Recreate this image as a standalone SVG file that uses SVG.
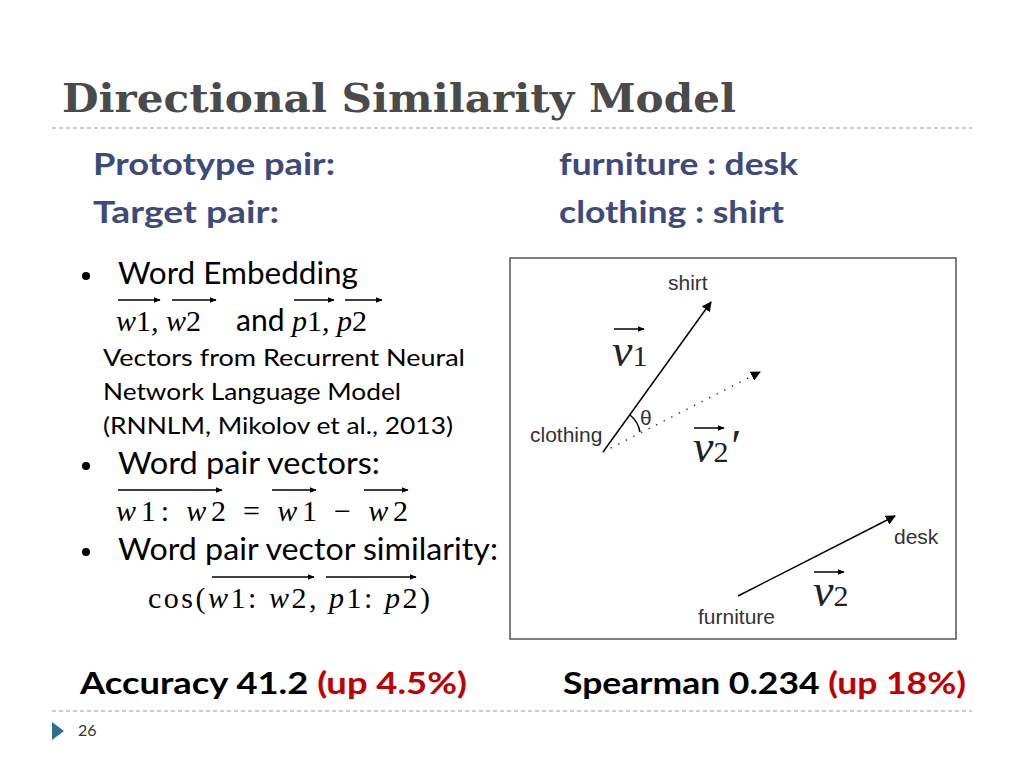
<svg xmlns="http://www.w3.org/2000/svg" width="1024" height="768" viewBox="0 0 1024 768">
<style>
.t{font-family:"DejaVu Serif","Liberation Serif",serif;font-weight:bold;font-size:40px;fill:#4a4a4a}
.h{font-family:"Lato","Liberation Sans",sans-serif;font-weight:bold;font-size:30px}
.p{fill:#3d4a7a}
.b{font-family:"Lato","Liberation Sans",sans-serif;font-size:30px;fill:#000}
.s{font-family:"Lato","Liberation Sans",sans-serif;font-size:24px;fill:#000}
.m{font-family:"Liberation Serif",serif;font-style:italic;font-size:30px;fill:#000}
.f{font-family:"Liberation Sans Narrow","Liberation Sans",sans-serif;font-size:21px;fill:#333}
.v{font-family:"Liberation Serif",serif;font-style:italic;font-size:46px;fill:#222}
.sub{font-style:normal;font-size:30px}
.ln{stroke:#000;stroke-width:1.5;fill:none}
.dash{stroke:#999;stroke-width:1;stroke-dasharray:4 3}
</style>
<defs>
<marker id="ah" viewBox="0 0 10 10" refX="9" refY="5" markerWidth="10" markerHeight="10" markerUnits="userSpaceOnUse" orient="auto"><path d="M0,0L10,5L0,10z" fill="#000"/></marker>
<marker id="sa" viewBox="0 0 10 10" refX="9" refY="5" markerWidth="7" markerHeight="7" markerUnits="userSpaceOnUse" orient="auto"><path d="M0,1L10,5L0,9z" fill="#000"/></marker>
</defs>
<rect width="1024" height="768" fill="#fff"/>
<text class="t" x="62" y="112" textLength="674" lengthAdjust="spacingAndGlyphs">Directional Similarity Model</text>
<line class="dash" x1="52" y1="128" x2="972" y2="128"/>
<text class="h p" x="93" y="175" textLength="242" lengthAdjust="spacingAndGlyphs">Prototype pair:</text>
<text class="h p" x="93" y="223" textLength="186" lengthAdjust="spacingAndGlyphs">Target pair:</text>
<text class="h p" x="559" y="175" textLength="239" lengthAdjust="spacingAndGlyphs">furniture : desk</text>
<text class="h p" x="559" y="223" textLength="225" lengthAdjust="spacingAndGlyphs">clothing : shirt</text>
<circle cx="86" cy="276" r="4" fill="#000"/>
<text class="b" x="118" y="284" textLength="240" lengthAdjust="spacingAndGlyphs">Word Embedding</text>
<text class="m" x="116" y="331">w<tspan font-style="normal">1</tspan>, w<tspan font-style="normal">2</tspan></text>
<text class="b" x="236" y="331">and</text>
<text class="m" x="292" y="331">p<tspan font-style="normal">1</tspan>, p<tspan font-style="normal">2</tspan></text>
<g class="ln"><line x1="118" y1="300" x2="160" y2="300" marker-end="url(#sa)"/><line x1="172" y1="300" x2="216" y2="300" marker-end="url(#sa)"/><line x1="294" y1="300" x2="334" y2="300" marker-end="url(#sa)"/><line x1="345" y1="300" x2="382" y2="300" marker-end="url(#sa)"/></g>
<text class="s" x="103" y="366" textLength="362" lengthAdjust="spacingAndGlyphs">Vectors from Recurrent Neural</text>
<text class="s" x="103" y="400" textLength="298" lengthAdjust="spacingAndGlyphs">Network Language Model</text>
<text class="s" x="103" y="434" textLength="350" lengthAdjust="spacingAndGlyphs">(RNNLM, Mikolov et al., 2013)</text>
<circle cx="86" cy="466" r="4" fill="#000"/>
<text class="b" x="118" y="474" textLength="262" lengthAdjust="spacingAndGlyphs">Word pair vectors:</text>
<text class="m" x="116" y="521" textLength="292" lengthAdjust="spacing">w<tspan font-style="normal">1: </tspan>w<tspan font-style="normal">2 =  </tspan>w<tspan font-style="normal">1  − </tspan>w<tspan font-style="normal">2</tspan></text>
<g class="ln"><line x1="118" y1="490" x2="222" y2="490" marker-end="url(#sa)"/><line x1="272" y1="490" x2="316" y2="490" marker-end="url(#sa)"/><line x1="364" y1="490" x2="408" y2="490" marker-end="url(#sa)"/></g>
<circle cx="86" cy="552" r="4" fill="#000"/>
<text class="b" x="118" y="560" textLength="380" lengthAdjust="spacingAndGlyphs">Word pair vector similarity:</text>
<text class="m" x="148" y="608" textLength="282" lengthAdjust="spacing"><tspan font-style="normal">cos(</tspan>w<tspan font-style="normal">1: </tspan>w<tspan font-style="normal">2, </tspan>p<tspan font-style="normal">1: </tspan>p<tspan font-style="normal">2)</tspan></text>
<g class="ln"><line x1="212" y1="577" x2="314" y2="577" marker-end="url(#sa)"/><line x1="326" y1="577" x2="416" y2="577" marker-end="url(#sa)"/></g>
<rect x="510" y="258" width="446" height="381" fill="#fff" stroke="#555" stroke-width="1.5"/>
<line class="ln" x1="603" y1="452" x2="711" y2="302" marker-end="url(#ah)"/>
<line x1="603" y1="452" x2="760" y2="372" stroke="#444" stroke-width="1.5" stroke-dasharray="1.5 7" marker-end="url(#ah)"/>
<line class="ln" x1="738" y1="596" x2="895" y2="516" marker-end="url(#ah)"/>
<path d="M630 415 A28 28 0 0 1 640 432" class="ln" stroke-width="1"/>
<text class="f" x="640" y="425" font-size="14">θ</text>
<text class="f" x="668" y="290">shirt</text>
<text class="f" x="530" y="442">clothing</text>
<text class="f" x="894" y="544">desk</text>
<text class="f" x="698" y="624">furniture</text>
<text class="v" x="612" y="366">v<tspan class="sub">1</tspan></text>
<line class="ln" x1="614" y1="329" x2="644" y2="329" marker-end="url(#sa)"/>
<text class="v" x="693" y="462">v<tspan class="sub">2</tspan>′</text>
<line class="ln" x1="694" y1="428" x2="724" y2="428" marker-end="url(#sa)"/>
<text class="v" x="813" y="606">v<tspan class="sub">2</tspan></text>
<line class="ln" x1="814" y1="572" x2="844" y2="572" marker-end="url(#sa)"/>
<text class="h" x="80" y="694" fill="#000" textLength="387" lengthAdjust="spacingAndGlyphs">Accuracy 41.2  <tspan fill="#c00000">(up 4.5%)</tspan></text>
<text class="h" x="563" y="694" fill="#000" textLength="403" lengthAdjust="spacingAndGlyphs">Spearman 0.234 <tspan fill="#c00000">(up 18%)</tspan></text>
<line class="dash" x1="52" y1="711" x2="972" y2="711"/>
<path d="M52 722L64 731L52 740z" fill="#2e6e8e"/>
<text x="78" y="736" font-family="Lato,'Liberation Sans',sans-serif" font-size="16" fill="#333">26</text>
</svg>
